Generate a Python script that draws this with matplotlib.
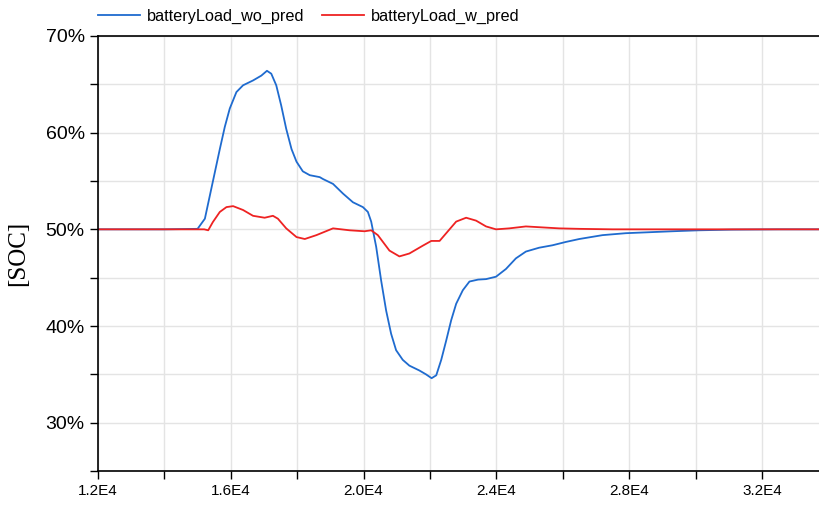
import matplotlib.pyplot as plt
from matplotlib.ticker import MultipleLocator, FuncFormatter

# time axis [s] and SOC [%]
t_wo = [12000, 14000, 15000, 15220, 15370, 15520, 15670, 15820, 15970, 16170,
        16370, 16670, 16920, 17090, 17220, 17370, 17520, 17670, 17830, 17980,
        18170, 18380, 18680, 18780, 19080, 19380, 19680, 19980, 20130, 20230,
        20380, 20530, 20680, 20830, 20980, 21180, 21380, 21680, 21880, 22050,
        22190, 22340, 22490, 22640, 22790, 22990, 23190, 23450, 23690, 23990,
        24290, 24590, 24890, 25290, 25690, 26100, 26500, 27200, 27900, 28600,
        29300, 30100, 31100, 32500, 34000]
soc_wo = [50.0, 50.0, 50.05, 51.1, 53.5, 55.9, 58.3, 60.6, 62.5, 64.2,
          64.9, 65.4, 65.9, 66.4, 66.1, 64.9, 62.8, 60.4, 58.3, 57.0,
          56.0, 55.6, 55.4, 55.2, 54.7, 53.7, 52.8, 52.3, 51.8, 50.8,
          48.2, 44.7, 41.6, 39.2, 37.5, 36.5, 35.9, 35.4, 35.0, 34.6,
          34.9, 36.5, 38.5, 40.6, 42.3, 43.7, 44.6, 44.8, 44.85, 45.1,
          45.9, 47.0, 47.7, 48.1, 48.35, 48.7, 49.0, 49.4, 49.6, 49.7,
          49.8, 49.9, 49.97, 50.0, 50.0]

t_w = [12000, 14000, 15000, 15200, 15320, 15460, 15670, 15870, 16070, 16370,
       16670, 17020, 17270, 17420, 17670, 17980, 18230, 18580, 19080, 19580,
       20030, 20230, 20430, 20780, 21080, 21380, 21780, 22040, 22290, 22490,
       22790, 23090, 23390, 23690, 23990, 24390, 24890, 25390, 25890, 26500,
       27500, 30000, 34000]
soc_w = [50.0, 50.0, 50.0, 50.0, 49.9, 50.75, 51.8, 52.3, 52.4, 52.0,
         51.4, 51.2, 51.4, 51.1, 50.1, 49.2, 49.0, 49.4, 50.1, 49.9,
         49.8, 49.9, 49.4, 47.8, 47.2, 47.5, 48.3, 48.8, 48.8, 49.6,
         50.8, 51.2, 50.9, 50.3, 50.0, 50.1, 50.3, 50.2, 50.1, 50.05,
         50.0, 50.0, 50.0]

plt.rcParams['font.family'] = 'Liberation Sans'

fig = plt.figure(figsize=(8.2, 5.07), dpi=100)
ax = fig.add_axes([0.1195, 0.071, 0.8805, 0.858])

ax.plot(t_wo, soc_wo, color='#1f6bcf', lw=1.3, label='batteryLoad_wo_pred')
ax.plot(t_w, soc_w, color='#ee2222', lw=1.3, label='batteryLoad_w_pred')

ax.set_xlim(12000, 33750)
ax.set_ylim(25, 70)
ax.xaxis.set_major_locator(MultipleLocator(4000))
ax.xaxis.set_minor_locator(MultipleLocator(2000))
ax.yaxis.set_major_locator(MultipleLocator(10))
ax.yaxis.set_minor_locator(MultipleLocator(5))
ax.xaxis.set_major_formatter(FuncFormatter(lambda v, p: f"{v/1e4:.1f}E4"))
ax.yaxis.set_major_formatter(FuncFormatter(lambda v, p: f"{v:.0f}%"))
ax.tick_params(which='both', direction='out', length=6, width=1)
ax.tick_params(axis='y', labelsize=14)
ax.tick_params(axis='x', labelsize=11)
ax.grid(True, which='both', color='#e4e4e4', lw=1)
ax.set_axisbelow(True)
ax.spines['right'].set_visible(False)
for s in ['left', 'bottom', 'top']:
    ax.spines[s].set_linewidth(1.2)

ax.set_ylabel('[SOC]', family='Liberation Serif', fontsize=18, labelpad=12)

fig.legend(loc='upper left', bbox_to_anchor=(0.1015, 1.012), ncol=2, frameon=False,
           fontsize=11.7, handlelength=2.6, handletextpad=0.43, columnspacing=1.05)

fig.savefig('out.png', dpi=100)
